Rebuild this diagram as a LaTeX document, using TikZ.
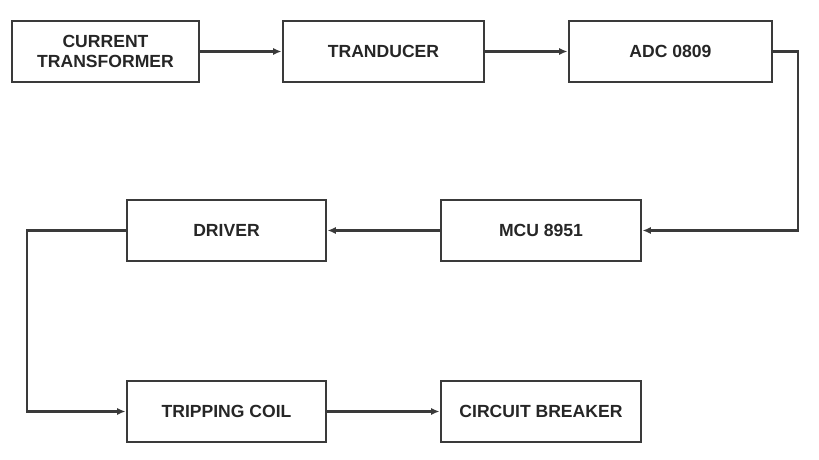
\documentclass[tikz,border=0pt]{standalone}
\usepackage{fontspec}
\newfontfamily\blockfont{Liberation Sans}
\usepackage{tikz}
\usetikzlibrary{calc,positioning,arrows,arrows.meta}
\definecolor{linegray}{HTML}{3A3A3A}
\definecolor{textgray}{HTML}{262626}

\begin{document}
\begin{tikzpicture}[%
    conn/.style={draw=linegray, line width=1.7pt}, ->, > = {Latex[length=6pt,width=5pt]},
    every node/.style={draw=linegray, line width=2pt, rectangle, minimum height=1.525cm, inner sep=0pt,
        font=\blockfont\bfseries\fontsize{12.5}{14}\selectfont, text=textgray}, align=center]
    \useasboundingbox (0,0) rectangle (20.475,11.5);
    \node[minimum width=4.675cm](CT) at (2.6375,10.2125) {CURRENT\\TRANSFORMER};
    \node[minimum width=5.025cm](TRAN) at (9.5875,10.2125) {TRANDUCER};
    \node[minimum width=5.075cm](ADC) at (16.7625,10.2125) {ADC 0809};
    \node[minimum width=5cm](MCU) at (13.525,5.7375) {MCU 8951};
    \node[minimum width=4.975cm](DRV) at (5.6625,5.7375) {DRIVER};
    \node[minimum width=4.975cm](TRIP) at (5.6625,1.2125) {TRIPPING COIL};
    \node[minimum width=5cm](CB) at (13.525,1.2125) {CIRCUIT BREAKER};
    \coordinate (bendR) at (19.95,10.2125);
    \coordinate (bendL) at (0.675,5.7375);

    \draw[conn](CT) -- (TRAN);
    \draw[conn](TRAN) -- (ADC);
    \draw[conn](ADC) -- (bendR) |- (MCU);
    \draw[conn](MCU) -- (DRV);
    \draw[conn](DRV) -- (bendL) |- (TRIP);
    \draw[conn](TRIP) -- (CB);

\end{tikzpicture}
\end{document}
